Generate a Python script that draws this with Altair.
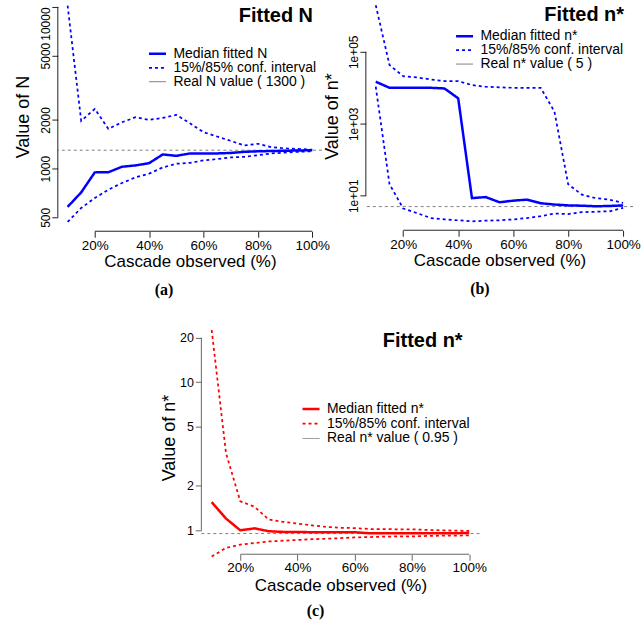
import altair as alt
import pandas as pd

FONT = "Liberation Sans"

pct = [10, 15, 20, 25, 30, 35, 40, 45, 50, 55, 60, 65, 70, 75, 80, 85, 90, 95, 100]
x_ticks = [20, 40, 60, 80, 100]
x_tick_labels = ["20%", "40%", "60%", "80%", "100%"]

# Panel (a): fitted N
a_median = [580, 713, 948, 950, 1027, 1047, 1081, 1224, 1200, 1241, 1240, 1242, 1250, 1270, 1280, 1285, 1290, 1295, 1300]
a_upper = [10200, 1972, 2340, 1762, 1935, 2078, 2002, 2060, 2150, 1908, 1680, 1580, 1486, 1390, 1425, 1358, 1333, 1325, 1310]
a_lower = [468, 571, 658, 741, 815, 883, 931, 1017, 1072, 1086, 1124, 1146, 1173, 1184, 1211, 1241, 1258, 1270, 1280]
a_real = 1300
a_names = ["Median fitted N", "15%/85% conf. interval", "Real N value ( 1300 )"]
a_yticks = [500, 1000, 2000, 5000, 10000]
a_ylabels = ["500", "1000", "2000", "5000", "10000"]

# Panel (b): fitted n*
b_median = [14760, 10000, 10000, 10000, 10000, 9600, 5100, 8.6, 9.2, 6.6, 7.3, 7.8, 6.2, 5.7, 5.4, 5.3, 5.1, 5.2, 5.4]
b_upper = [1.97e6, 4.3e4, 2.1e4, 1.95e4, 1.7e4, 1.54e4, 1.54e4, 1.19e4, 1.07e4, 1.03e4, 1.0e4, 1.0e4, 1.0e4, 2.2e3, 21, 10.7, 8.6, 7.8, 6.3]
b_lower = [1.07e4, 21, 4.4, 3.3, 2.4, 2.2, 2.08, 1.95, 2.03, 2.08, 2.2, 2.4, 2.7, 3.2, 3.1, 3.5, 3.6, 3.7, 4.6]
b_real = 5
b_names = ["Median fitted n*", "15%/85% conf. interval", "Real n* value ( 5 )"]
b_yticks = [10, 1000, 100000]
b_ylabels = ["1e+01", "1e+03", "1e+05"]

# Panel (c): fitted n*
c_median = [1.55, 1.20, 1.0, 1.03, 0.985, 0.975, 0.975, 0.97, 0.97, 0.97, 0.97, 0.955, 0.955, 0.955, 0.955, 0.955, 0.955, 0.955, 0.96]
c_upper = [22.5, 3.32, 1.57, 1.44, 1.18, 1.14, 1.11, 1.08, 1.055, 1.04, 1.035, 1.02, 1.02, 1.015, 1.015, 1.006, 1.0, 0.995, 0.99]
c_lower = [0.665, 0.76, 0.80, 0.82, 0.84, 0.85, 0.86, 0.87, 0.877, 0.885, 0.895, 0.90, 0.905, 0.91, 0.91, 0.915, 0.92, 0.92, 0.925]
c_real = 0.95
c_names = ["Median fitted n*", "15%/85% conf. interval", "Real n* value ( 0.95 )"]
c_yticks = [1, 2, 5, 10, 20]
c_ylabels = ["1", "2", "5", "10", "20"]


def label_expr(values, labels):
    parts = ["datum.value == %r ? '%s'" % (v, l) for v, l in zip(values, labels)]
    return " : ".join(parts) + " : ''"


def panel(median, upper, lower, real, names, color, width, height, ydom,
          yticks, ylabels, vertical_labels, shift_top_label, heading, ytitle,
          heading_dx, heading_base, legend_xy, legend_rowpad, axis_color, ytitle_pad,
          xlabel_pad, xtitle_pad, caption, caption_dx, caption_offset):
    rows = []
    for p, m, u, l in zip(pct, median, upper, lower):
        rows.append({"pct": p, "value": m, "series": names[0], "band": "median"})
        rows.append({"pct": p, "value": u, "series": names[1], "band": "upper"})
        rows.append({"pct": p, "value": l, "series": names[1], "band": "lower"})
    df = pd.DataFrame(rows)

    xs = alt.Scale(domain=[6.4, 103.6], nice=False, zero=False)
    ys = alt.Scale(type="log", domain=ydom, nice=False)

    xaxis = alt.Axis(values=x_ticks, labelExpr=label_expr(x_ticks, x_tick_labels),
                     domain=False, tickSize=6, tickColor=axis_color, tickWidth=1,
                     labelFont=FONT, labelFontSize=13.5, labelColor="black",
                     labelPadding=xlabel_pad, labelFlush=False, labelOverlap=False,
                     title="Cascade observed (%)", titleFont=FONT, titleFontSize=17,
                     titleFontWeight="normal", titleColor="black", titlePadding=xtitle_pad,
                     grid=False)
    if vertical_labels:
        if shift_top_label:
            align = {"condition": {"test": "datum.value == %r" % yticks[-1], "value": "right"},
                     "value": "center"}
        else:
            align = "center"
        yaxis = alt.Axis(values=yticks, labelExpr=label_expr(yticks, ylabels),
                         domain=False, tickSize=6, tickColor=axis_color,
                         labelFont=FONT, labelFontSize=12, labelColor="black",
                         labelPadding=2.5, labelAngle=-90, labelAlign=align,
                         labelBaseline="alphabetic", labelFlush=False, labelOverlap=False,
                         title=ytitle, titleFont=FONT, titleFontSize=18,
                         titleFontWeight="normal", titleColor="black",
                         titlePadding=ytitle_pad, titleBaseline="alphabetic", grid=False)
    else:
        yaxis = alt.Axis(values=yticks, labelExpr=label_expr(yticks, ylabels),
                         domain=False, tickSize=6, tickColor=axis_color,
                         labelFont=FONT, labelFontSize=12.5, labelColor="black",
                         labelPadding=2, labelAngle=0, labelAlign="right",
                         labelBaseline="middle", labelFlush=False, labelOverlap=False,
                         title=ytitle, titleFont=FONT, titleFontSize=18,
                         titleFontWeight="normal", titleColor="black",
                         titlePadding=ytitle_pad, titleBaseline="alphabetic", grid=False)

    legend = alt.Legend(title=None, orient="none", legendX=legend_xy[0], legendY=legend_xy[1],
                        symbolType="M-1.55,0L1.55,0", symbolSize=121, labelFontSize=14,
                        labelFont=FONT, labelColor="black", labelOffset=9,
                        rowPadding=legend_rowpad, padding=0, labelLimit=0)

    lines = alt.Chart(df).mark_line(clip=False).encode(
        x=alt.X("pct:Q", scale=xs, axis=xaxis),
        y=alt.Y("value:Q", scale=ys, axis=yaxis),
        color=alt.Color("series:N", scale=alt.Scale(domain=names, range=[color, color, "gray"]), legend=legend),
        strokeDash=alt.StrokeDash("series:N", scale=alt.Scale(domain=names, range=[[1, 0], [3, 3], [1, 0]]), legend=legend),
        strokeWidth=alt.StrokeWidth("series:N", scale=alt.Scale(domain=names, range=[2.5, 1, 1]), legend=legend),
        detail="band:N",
        order="pct:Q",
    )

    real_rule = alt.Chart(pd.DataFrame({"value": [real]})).mark_rule(
        color="gray", strokeDash=[3, 3], strokeWidth=1
    ).encode(y=alt.Y("value:Q", scale=ys, axis=yaxis))

    xline = alt.Chart(pd.DataFrame({"pct": [x_ticks[0]], "pct2": [x_ticks[-1]]})).mark_rule(
        color=axis_color, strokeWidth=1
    ).encode(x=alt.X("pct:Q", scale=xs, axis=xaxis), x2="pct2:Q", y=alt.value(height))

    yline = alt.Chart(pd.DataFrame({"value": [yticks[0]], "value2": [yticks[-1]]})).mark_rule(
        color=axis_color, strokeWidth=1
    ).encode(x=alt.value(0), y=alt.Y("value:Q", scale=ys, axis=yaxis), y2="value2:Q")

    head = alt.Chart(pd.DataFrame({"t": [heading]})).mark_text(
        align="right", baseline="alphabetic", font=FONT, fontSize=20,
        fontWeight="bold", color="black"
    ).encode(text="t:N", x=alt.value(width + heading_dx), y=alt.value(heading_base))

    layer = alt.layer(real_rule, lines, xline, yline, head).properties(
        width=width, height=height,
        title=alt.TitleParams(caption, orient="bottom", anchor="middle", frame="bounds",
                              font="Liberation Serif", fontSize=16, fontWeight="bold",
                              color="black", offset=caption_offset, dx=caption_dx),
    )
    return layer


A = panel(a_median, a_upper, a_lower, a_real, a_names, "#0000FF", 265, 230, [410, 10735],
          a_yticks, a_ylabels, True, True, "Fitted N", "Value of N", -9, 20, (93, 45), -1,
          "#222222", 11, 1.5, 1.5, "(a)", -8, 12)
B = panel(b_median, b_upper, b_lower, b_real, b_names, "#0000FF", 268, 229, [1.10, 2.43e6],
          b_yticks, b_ylabels, True, False, "Fitted n*", "Value of n*", -9, 19, (92, 27.3), 0,
          "#222222", 10, 1.5, 1.5, "(b)", -2, 12)
C = panel(c_median, c_upper, c_lower, c_real, c_names, "#FF0000", 279, 234, [0.689, 25.9],
          c_yticks, c_ylabels, False, False, "Fitted n*", "Value of n*", -17, 26, (103, 81.3), 0.8,
          "#666666", 5, 0, 4, "(c)", -8, 9)

res = dict(color="independent", strokeDash="independent", strokeWidth="independent")

top_row = alt.hconcat(A, B, spacing=-7).resolve_scale(**res)

spacer = alt.Chart(pd.DataFrame({"v": [0]})).mark_point(opacity=0).encode(
    x=alt.X("v:Q", axis=None), y=alt.Y("v:Q", axis=None)
).properties(width=103, height=10)

bottom_row = alt.hconcat(spacer, C, spacing=0).resolve_scale(**res)

chart = alt.vconcat(top_row, bottom_row, spacing=23).resolve_scale(**res).properties(
    padding={"left": 14, "top": 0, "right": 0, "bottom": 0}, background="white"
).configure_view(strokeWidth=0)

chart.save("out.html", embed_options={"renderer": "svg", "actions": False})
